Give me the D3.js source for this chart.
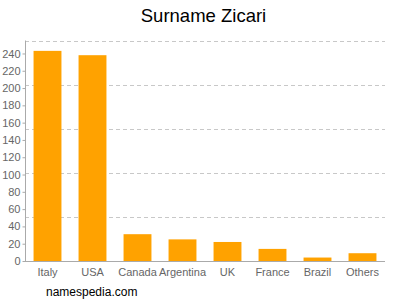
<!DOCTYPE html>
<html><head><meta charset="utf-8">
<script src="https://cdn.jsdelivr.net/npm/d3@7"></script>
<style>body{margin:0;background:#fff}svg{display:block}</style>
</head><body>
<script>
const categories = ["Italy","USA","Canada","Argentina","UK","France","Brazil","Others"];
const values = [243, 238, 31, 25, 22, 14, 4, 9];
const yTicks = [0,20,40,60,80,100,120,140,160,180,200,220,240];
const gridValues = [51,102,153,204,255];
const title = "Surname Zicari";
const footer = "namespedia.com";

const W=400,H=300;
const svg=d3.select("body").append("svg").attr("width",W).attr("height",H);
const x=d3.scaleBand().domain(categories).range([25,385]).paddingInner(0.38).paddingOuter(0.19);
const y=d3.scaleLinear().domain([0,255]).range([261,40.5]);

svg.append("text").attr("x",203.5).attr("y",22).attr("text-anchor","middle")
  .attr("font-family","Liberation Sans, Arial, sans-serif").attr("font-size",18.5).attr("fill","#000").text(title);

svg.append("g").selectAll("line").data(gridValues).join("line")
  .attr("x1",25).attr("x2",385).attr("y1",d=>Math.round(y(d))+0.5).attr("y2",d=>Math.round(y(d))+0.5)
  .attr("stroke","#c8c8c8").attr("stroke-dasharray","4,3");

svg.append("g").selectAll("rect").data(values).join("rect")
  .attr("x",(d,i)=>x(categories[i])).attr("width",x.bandwidth())
  .attr("y",d=>y(d)).attr("height",d=>y(0)-y(d)).attr("fill","#ffa200");

const yAxis=svg.append("g").attr("transform","translate(25.5,0)")
  .call(d3.axisLeft(y).tickValues(yTicks).tickSize(3).tickPadding(2));
yAxis.select(".domain").attr("stroke","#aaa").attr("d","M0,40.5V261");
yAxis.selectAll(".tick line").attr("stroke","#aaa");
yAxis.selectAll("text").attr("fill","#666").attr("font-family","Liberation Sans, Arial, sans-serif").attr("font-size",11);

const xAxis=svg.append("g").attr("transform","translate(0,261.5)")
  .call(d3.axisBottom(x).tickSize(0).tickPadding(7));
xAxis.select(".domain").attr("stroke","#aaa").attr("d","M25,0H385");
xAxis.selectAll("text").attr("fill","#666").attr("font-family","Liberation Sans, Arial, sans-serif").attr("font-size",11);

svg.append("text").attr("x",46).attr("y",296).attr("font-family","Liberation Sans, Arial, sans-serif")
  .attr("font-size",12).attr("fill","#000").text(footer);
</script>
</body></html>
